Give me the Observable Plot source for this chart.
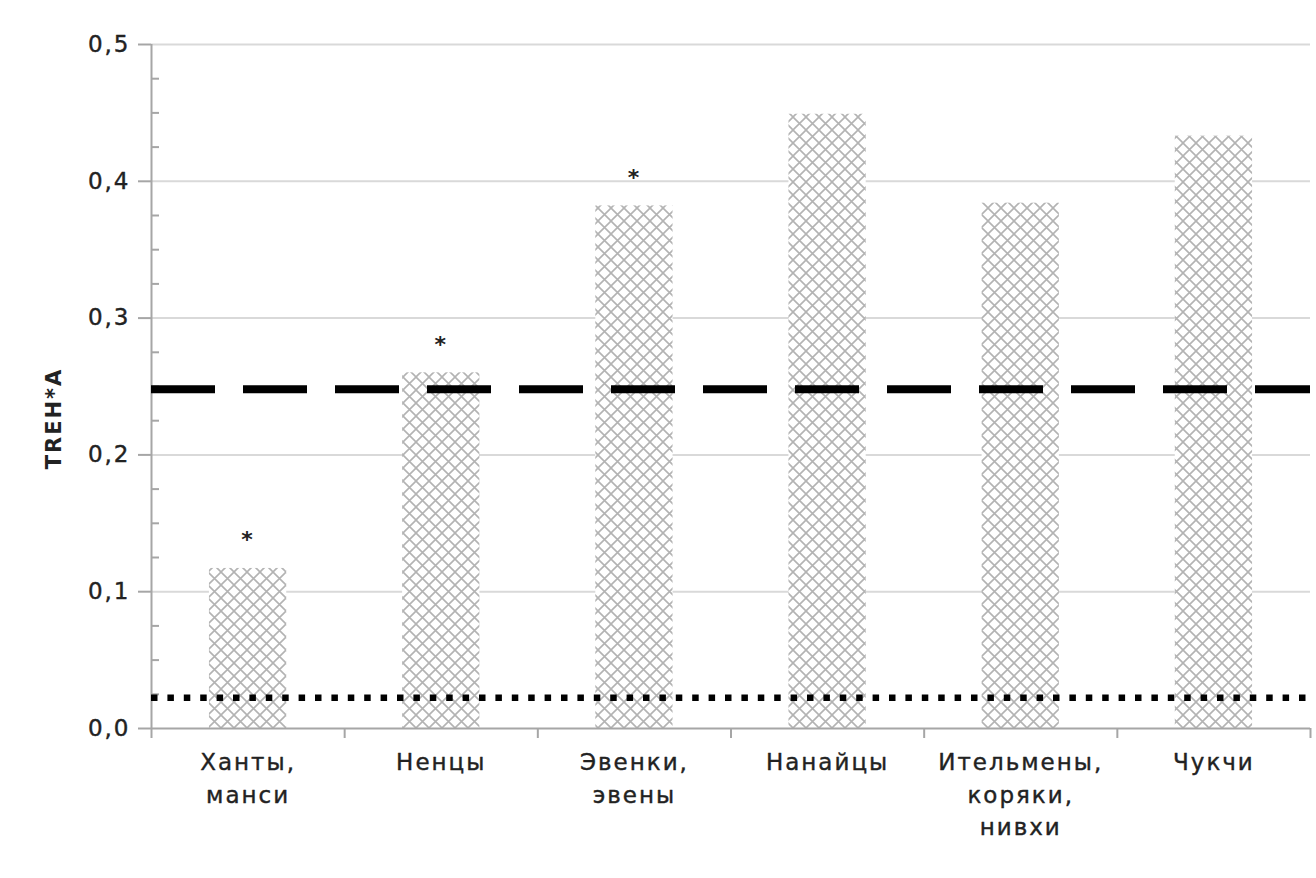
<!DOCTYPE html>
<html>
<head>
<meta charset="utf-8">
<script src="https://cdn.jsdelivr.net/npm/d3@7"></script>
<script src="https://cdn.jsdelivr.net/npm/@observablehq/plot@0.6"></script>
<style>
  html, body { margin: 0; padding: 0; background: #fff; }
  #chart svg { display: block; }
</style>
</head>
<body>
<div id="chart"></div>
<script>
// ---- data ----
const categories = ["Ханты,\nманси", "Ненцы", "Эвенки,\nэвены", "Нанайцы", "Ительмены,\nкоряки,\nнивхи", "Чукчи"];
const values = [0.117, 0.260, 0.382, 0.449, 0.384, 0.433];
const significance = ["*", "*", "*", "", "", ""];
const dashedLevel = [0.248];
const dottedLevel = [0.0225];
const yTicks = [0, 0.1, 0.2, 0.3, 0.4, 0.5];
const yMinorTicks = [0.025, 0.05, 0.075, 0.125, 0.15, 0.175, 0.225, 0.25, 0.275, 0.325, 0.35, 0.375, 0.425, 0.45, 0.475];
const categoryBoundaries = [0, 1, 2, 3, 4, 5, 6];
const yLabel = "TREH*A";

const data = categories.map((c, i) => ({i, category: c, value: values[i], mark: significance[i]}));

const FONT = "'DejaVu Sans', sans-serif";
const GRID = "#d9d9d9";
const AXIS = "#a6a6a6";
const TEXT = "#222222";

const chart = Plot.plot({
  width: 1316,
  height: 878,
  marginLeft: 151,
  marginRight: 6,
  marginTop: 44,
  marginBottom: 150,
  style: {fontFamily: FONT, fontSize: "23px", background: "#fff", letterSpacing: "2px"},
  x: {domain: [0, 6], axis: null},
  y: {domain: [0, 0.5], axis: null},
  marks: [
    Plot.ruleY(yTicks.filter(d => d > 0), {stroke: GRID, strokeWidth: 2}),
    Plot.rectY(data, {x1: d => d.i + 0.3, x2: d => d.i + 0.7, y1: 0, y2: "value", fill: "url(#hatch)"}),
    Plot.ruleY([0], {stroke: AXIS, strokeWidth: 2}),
    Plot.ruleX([0], {stroke: AXIS, strokeWidth: 2}),
    Plot.axisY(yTicks, {
      anchor: "left", label: null, tickSize: 13, tickPadding: 8, stroke: AXIS, strokeWidth: 2,
      fill: TEXT, textStroke: TEXT, textStrokeWidth: 0.4, fontSize: 23,
      tickFormat: d => d.toFixed(1).replace(".", ",")
    }),
    Plot.axisY(yMinorTicks, {anchor: "left", label: null, tickSize: 8, dx: 8, stroke: AXIS, strokeWidth: 2, tickFormat: () => ""}),
    Plot.axisX(categoryBoundaries, {anchor: "bottom", label: null, tickSize: 10, stroke: AXIS, strokeWidth: 2, tickFormat: () => ""}),
    Plot.text(data, {
      x: d => d.i + 0.5, frameAnchor: "bottom", text: "category", lineAnchor: "top",
      dy: 19, lineHeight: 1.4, fontSize: 23, fill: TEXT, stroke: TEXT, strokeWidth: 0.4
    }),
    Plot.text(data.filter(d => d.mark), {
      x: d => d.i + 0.5, y: "value", text: "mark", dy: -28, fontSize: 22, fontWeight: "bold", fill: TEXT
    }),
    Plot.ruleY(dashedLevel, {stroke: "#000", strokeWidth: 8, strokeDasharray: "64,28"}),
    Plot.ruleY(dottedLevel, {stroke: "#000", strokeWidth: 6.5, strokeDasharray: "6.5,9.9"}),
    Plot.text([yLabel], {
      frameAnchor: "left", textAnchor: "middle", dx: -97, dy: 32, rotate: -90,
      fontWeight: "bold", fontSize: 21, fill: TEXT
    })
  ]
});

// crosshatch pattern for bars
const ns = "http://www.w3.org/2000/svg";
const defs = document.createElementNS(ns, "defs");
const pat = document.createElementNS(ns, "pattern");
pat.setAttribute("id", "hatch");
pat.setAttribute("patternUnits", "userSpaceOnUse");
pat.setAttribute("width", "13");
pat.setAttribute("height", "13");
const bg = document.createElementNS(ns, "rect");
bg.setAttribute("width", "13");
bg.setAttribute("height", "13");
bg.setAttribute("fill", "#ffffff");
pat.appendChild(bg);
const p = document.createElementNS(ns, "path");
p.setAttribute("d", "M-1,-1L14,14M14,-1L-1,14");
p.setAttribute("stroke", "#b3b3b3");
p.setAttribute("stroke-width", "1.6");
p.setAttribute("fill", "none");
pat.appendChild(p);
defs.appendChild(pat);
chart.insertBefore(defs, chart.firstChild);

document.getElementById("chart").appendChild(chart);
</script>
</body>
</html>
